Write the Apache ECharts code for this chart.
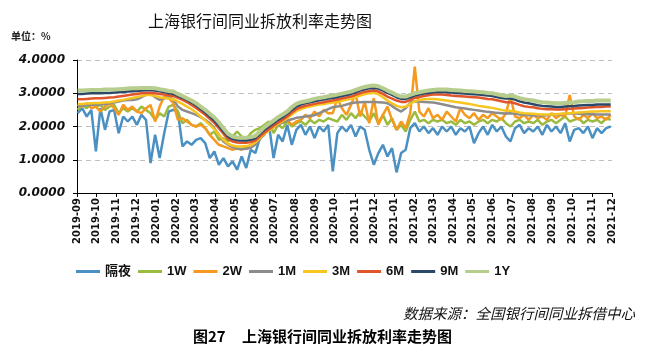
<!DOCTYPE html>
<html>
<head>
<meta charset="utf-8">
<script src="https://cdn.jsdelivr.net/npm/echarts@6/dist/echarts.min.js"></script>
<style>
html,body{margin:0;padding:0;background:#fff;}
#c{width:656px;height:356px;}
</style>
</head>
<body>
<div id="c"></div>
<script>
// Weekly observation dates (Mondays) from 2019-09-02 to 2021-11-29
const startDate = [2019, 8, 2];
const weekCount = 118;

const seriesNames = ['隔夜', '1W', '2W', '1M', '3M', '6M', '9M', '1Y'];
const seriesColors = ['#4a90c2', '#9bbb3e', '#f59a1f', '#8c8c8c', '#f7c520', '#e0552b', '#2c4868', '#b7cd8d'];

const yTicks = [0, 1, 2, 3, 4];

const on = [
 2.40,2.55,2.30,2.50,1.25,2.55,1.90,2.45,2.50,
 1.80,2.30,2.15,2.30,2.05,2.35,2.20,0.90,
 1.75,1.05,1.80,2.45,2.50,
 2.45,1.40,1.55,1.45,
 1.60,1.65,1.50,1.05,1.25,
 0.85,1.05,0.80,0.95,
 0.70,1.10,0.75,1.30,
 1.20,1.65,1.75,2.05,
 1.05,1.75,1.55,2.05,1.45,
 1.90,2.05,1.75,2.00,1.65,
 2.00,1.85,2.05,0.65,
 1.80,2.00,1.85,2.05,
 1.70,2.00,1.90,1.30,0.85,
 1.20,1.45,1.10,1.35,
 0.62,1.20,1.30,1.95,2.10,
 1.85,2.00,1.80,1.95,1.75,
 2.00,1.85,2.00,1.75,1.95,1.85,2.00,
 1.50,1.80,2.00,1.75,2.05,
 1.85,2.00,1.70,1.55,
 1.95,2.05,1.80,1.95,
 1.85,2.00,1.75,2.05,1.85,
 2.00,1.80,2.10,1.55,
 1.90,1.95,1.80,2.00,1.65,
 1.95,1.80,1.95,2.00
];
const w1 = [
 2.50,2.65,2.55,2.70,2.60,2.65,2.50,2.60,2.65,
 2.40,2.55,2.45,2.55,2.45,2.60,2.50,2.40,
 2.20,2.40,2.30,2.60,2.65,
 2.45,2.10,2.20,2.05,
 2.00,2.10,1.95,1.75,1.85,
 1.60,1.65,1.55,1.70,
 1.85,1.70,1.60,1.80,
 1.90,1.95,2.05,2.15,
 1.80,2.05,1.95,2.15,2.00,
 2.10,2.15,2.05,2.20,2.10,
 2.20,2.15,2.25,2.20,
 2.15,2.35,2.20,2.40,
 2.25,2.45,2.30,2.15,2.40,
 2.10,2.35,2.05,2.25,
 1.90,2.05,1.85,2.20,2.45,
 2.15,2.20,2.10,2.20,2.15,
 2.20,2.10,2.15,2.05,2.20,2.10,2.15,
 2.05,2.15,2.20,2.10,2.20,
 2.15,2.25,2.10,2.00,
 2.15,2.20,2.10,2.15,
 2.10,2.20,2.05,2.15,2.20,
 2.10,2.20,2.30,2.15,
 2.20,2.25,2.10,2.20,2.15,
 2.20,2.10,2.25,2.20
];
const w2 = [
 2.65,2.60,2.70,2.55,2.60,2.45,2.60,2.70,2.55,
 2.35,2.65,2.50,2.60,2.45,2.40,2.55,2.65,
 2.15,2.60,2.90,2.85,2.70,
 2.20,2.25,2.15,2.05,
 2.00,2.05,1.95,1.75,1.60,
 1.45,1.40,1.35,1.30,
 1.35,1.30,1.38,1.45,
 1.55,1.75,1.95,2.10,
 2.00,2.30,2.10,2.20,2.05,
 2.15,2.20,2.35,2.25,2.45,
 2.30,2.50,2.40,2.40,
 2.85,2.55,2.35,2.65,
 3.00,2.30,2.75,2.10,2.85,
 2.05,2.35,2.60,2.20,
 1.90,2.15,1.95,2.40,3.80,
 2.45,2.30,2.55,2.25,2.35,
 2.20,2.45,2.30,2.15,2.55,2.35,2.25,
 2.40,2.20,2.35,2.25,2.40,
 2.30,2.20,2.40,2.90,
 2.30,2.25,2.35,2.20,
 2.35,2.25,2.30,2.20,2.40,
 2.25,2.35,2.30,2.95,
 2.30,2.20,2.35,2.25,2.40,
 2.25,2.30,2.20,2.35
];
const m1 = [
 2.62,2.63,2.64,2.65,2.66,2.66,2.68,2.70,2.72,
 2.75,2.78,2.80,2.80,2.82,2.88,2.95,3.00,
 2.88,2.80,2.85,2.88,2.82,
 2.60,2.50,2.45,2.40,
 2.35,2.28,2.20,2.10,1.95,
 1.75,1.55,1.45,1.38,
 1.33,1.32,1.33,1.36,
 1.45,1.62,1.78,1.88,
 1.98,2.05,2.12,2.18,2.22,
 2.26,2.28,2.30,2.32,2.34,
 2.40,2.46,2.52,2.58,
 2.60,2.62,2.66,2.70,
 2.72,2.73,2.74,2.74,2.74,
 2.73,2.72,2.70,2.62,
 2.52,2.45,2.55,2.72,2.76,
 2.75,2.74,2.73,2.72,2.70,
 2.67,2.64,2.61,2.58,2.56,2.54,2.52,
 2.50,2.48,2.46,2.44,2.43,
 2.41,2.40,2.39,2.40,
 2.38,2.36,2.35,2.34,
 2.33,2.33,2.33,2.34,2.35,
 2.36,2.37,2.38,2.39,
 2.39,2.38,2.37,2.37,2.37,
 2.36,2.36,2.36,2.36
];
const m3 = [
 2.68,2.68,2.69,2.70,2.71,2.71,2.72,2.73,2.75,
 2.78,2.80,2.83,2.86,2.89,2.92,2.95,2.95,
 2.92,2.88,2.86,2.84,2.82,
 2.75,2.68,2.60,2.52,
 2.42,2.30,2.18,2.05,1.92,
 1.75,1.60,1.48,1.43,
 1.40,1.40,1.41,1.44,
 1.52,1.65,1.78,1.88,
 1.98,2.08,2.16,2.25,2.36,
 2.46,2.52,2.57,2.60,2.63,
 2.66,2.68,2.70,2.72,
 2.74,2.77,2.80,2.83,
 2.88,2.93,2.97,3.00,3.01,
 2.97,2.88,2.78,2.70,
 2.62,2.58,2.60,2.68,2.76,
 2.80,2.82,2.83,2.83,2.82,
 2.80,2.78,2.76,2.74,2.72,2.70,2.68,
 2.65,2.62,2.60,2.58,2.56,
 2.53,2.50,2.47,2.47,
 2.45,2.42,2.40,2.39,
 2.38,2.37,2.36,2.36,2.36,
 2.37,2.38,2.39,2.40,
 2.41,2.42,2.43,2.44,2.45,
 2.45,2.46,2.46,2.46
];
const m6 = [
 2.82,2.82,2.83,2.84,2.85,2.85,2.86,2.87,2.88,
 2.90,2.92,2.94,2.96,2.98,3.00,3.01,3.01,
 3.00,2.98,2.96,2.94,2.92,
 2.86,2.80,2.73,2.65,
 2.56,2.46,2.35,2.23,2.11,
 1.95,1.78,1.63,1.55,
 1.52,1.51,1.51,1.53,
 1.58,1.70,1.82,1.92,
 2.02,2.12,2.20,2.30,2.42,
 2.52,2.58,2.62,2.65,2.68,
 2.71,2.73,2.76,2.78,
 2.81,2.84,2.87,2.90,
 2.95,3.00,3.04,3.07,3.08,
 3.05,2.98,2.90,2.84,
 2.78,2.74,2.74,2.80,2.86,
 2.89,2.92,2.94,2.96,2.96,
 2.96,2.95,2.93,2.92,2.91,2.90,2.89,
 2.88,2.87,2.85,2.83,2.82,
 2.79,2.76,2.73,2.73,
 2.70,2.65,2.61,2.59,
 2.58,2.55,2.53,2.52,2.52,
 2.51,2.51,2.52,2.53,
 2.54,2.55,2.56,2.57,2.58,
 2.59,2.59,2.60,2.60
];
const m9 = [
 2.98,2.98,2.99,3.00,3.00,3.00,3.01,3.01,3.02,
 3.03,3.04,3.05,3.06,3.07,3.08,3.09,3.09,
 3.08,3.06,3.04,3.01,2.98,
 2.92,2.86,2.80,2.72,
 2.63,2.53,2.42,2.30,2.18,
 2.02,1.85,1.70,1.62,
 1.59,1.58,1.58,1.60,
 1.65,1.78,1.90,2.00,
 2.10,2.20,2.28,2.38,2.50,
 2.60,2.66,2.70,2.73,2.76,
 2.79,2.81,2.84,2.86,
 2.89,2.92,2.95,2.98,
 3.03,3.08,3.12,3.15,3.16,
 3.14,3.08,3.01,2.95,
 2.88,2.83,2.83,2.88,2.93,
 2.96,2.99,3.01,3.03,3.04,
 3.04,3.03,3.02,3.01,3.00,2.99,2.98,
 2.97,2.96,2.95,2.93,2.92,
 2.89,2.86,2.84,2.84,
 2.81,2.76,2.72,2.70,
 2.67,2.64,2.62,2.61,2.60,
 2.59,2.59,2.60,2.61,
 2.62,2.63,2.64,2.65,2.65,
 2.66,2.66,2.66,2.66
];
const y1 = [
 3.08,3.08,3.09,3.10,3.10,3.10,3.11,3.11,3.11,
 3.12,3.13,3.14,3.15,3.15,3.16,3.16,3.16,
 3.15,3.12,3.10,3.07,3.05,
 2.98,2.92,2.85,2.78,
 2.70,2.60,2.50,2.38,2.27,
 2.12,1.95,1.78,1.70,
 1.67,1.66,1.66,1.68,
 1.72,1.85,1.98,2.08,
 2.18,2.28,2.36,2.45,2.58,
 2.68,2.73,2.76,2.79,2.83,
 2.86,2.88,2.91,2.93,
 2.96,2.99,3.02,3.05,
 3.10,3.15,3.19,3.22,3.23,
 3.21,3.15,3.08,3.02,
 2.95,2.90,2.90,2.95,3.00,
 3.03,3.06,3.08,3.10,3.11,
 3.11,3.11,3.10,3.09,3.08,3.07,3.06,
 3.05,3.04,3.03,3.01,3.00,
 2.97,2.94,2.92,2.93,
 2.90,2.85,2.82,2.80,
 2.78,2.75,2.73,2.72,2.71,
 2.70,2.70,2.71,2.72,
 2.73,2.75,2.76,2.77,2.77,
 2.78,2.78,2.78,2.78
];
const seriesValues = [on, w1, w2, m1, m3, m6, m9, y1];
const seriesWidths = [2.5, 2.5, 2.5, 2.5, 2.5, 2.5, 2.5, 4];

function pad(n){ return (n < 10 ? '0' : '') + n; }
const dates = [];
for (let k = 0; k < weekCount; k++) {
  const d = new Date(startDate[0], startDate[1], startDate[2] + 7 * k);
  dates.push(d.getFullYear() + '-' + pad(d.getMonth() + 1) + '-' + pad(d.getDate()));
}
const DAY = 86400000;
const xMin = new Date(2019, 8, 1).getTime();
const xMax = new Date(2021, 11, 1).getTime();

const chart = echarts.init(document.getElementById('c'), null, {renderer: 'canvas'});
const cjk = '"Noto Sans CJK SC", sans-serif';

chart.setOption({
  animation: false,
  backgroundColor: '#fff',
  title: {
    text: '上海银行间同业拆放利率走势图',
    left: 143, top: 8,
    textStyle: {fontFamily: cjk, fontSize: 16, fontWeight: 'normal', color: '#111'}
  },
  graphic: [
    {type: 'text', left: 11, top: 31, style: {text: '单位：%', font: 'bold 10px "Noto Sans CJK SC"', fill: '#222'}},
    {type: 'text', left: 403, top: 306, style: {text: '数据来源：全国银行间同业拆借中心', font: 'italic 14.5px "Noto Sans CJK SC"', fill: '#111'}},
    {type: 'text', left: 193, top: 329, style: {text: '图27', font: 'bold 15px "Noto Sans CJK SC"', fill: '#000'}},
    {type: 'text', left: 242, top: 329, style: {text: '上海银行间同业拆放利率走势图', font: 'bold 15px "Noto Sans CJK SC"', fill: '#000'}}
  ],
  legend: {
    left: 71, top: 260,
    icon: 'rect',
    itemWidth: 24, itemHeight: 3, itemGap: 7,
    data: seriesNames,
    textStyle: {fontFamily: '"Liberation Sans", "Noto Sans CJK SC", sans-serif', fontSize: 13, fontWeight: 'bold', color: '#111'}
  },
  grid: {left: 77, top: 60, width: 535, height: 133, containLabel: false},
  xAxis: {
    type: 'time',
    min: xMin, max: xMax,
    splitNumber: 27,
    minInterval: 28 * DAY, maxInterval: 31 * DAY,
    boundaryGap: false,
    axisLine: {lineStyle: {color: '#000', width: 1}},
    axisTick: {show: true, length: 4, lineStyle: {color: '#000'}},
    splitLine: {show: false},
    axisLabel: {
      rotate: 90, margin: 5, fontSize: 10, fontWeight: 'bold', fontFamily: '"DejaVu Sans"', color: '#111',
      hideOverlap: false, showMinLabel: true, showMaxLabel: true,
      formatter: function (v) { const d = new Date(v); return d.getFullYear() + '-' + pad(d.getMonth() + 1); }
    }
  },
  yAxis: {
    type: 'value', min: yTicks[0], max: yTicks[yTicks.length - 1], interval: 1,
    axisLine: {show: true, lineStyle: {color: '#000', width: 1}},
    axisTick: {show: true, length: 4, lineStyle: {color: '#000'}},
    splitLine: {show: true, lineStyle: {color: '#bfbfbf', type: [5, 4], width: 1}},
    axisLabel: {
      margin: 12, fontSize: 12, fontWeight: 'bold', fontStyle: 'italic', fontFamily: '"DejaVu Sans"', color: '#111',
      formatter: function (v) { return v.toFixed(4); }
    }
  },
  series: seriesNames.map(function (name, i) {
    return {
      name: name, type: 'line', symbol: 'none', smooth: false,
      color: seriesColors[i],
      lineStyle: {width: seriesWidths[i], color: seriesColors[i]},
      data: dates.map(function (d, j) { return [d, seriesValues[i][j]]; })
    };
  })
});
</script>
</body>
</html>
